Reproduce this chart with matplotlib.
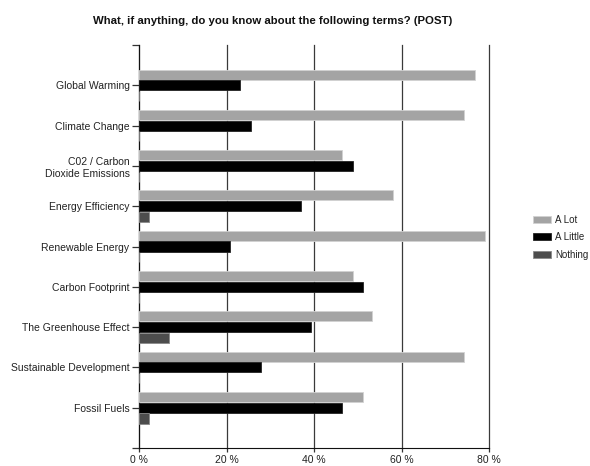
import matplotlib
matplotlib.use("Agg")
import matplotlib.pyplot as plt
import numpy as np

plt.rcParams['font.family'] = ['Liberation Sans', 'DejaVu Sans']

categories = [
    "Global Warming",
    "Climate Change",
    "C02 / Carbon\nDioxide Emissions",
    "Energy Efficiency",
    "Renewable Energy",
    "Carbon Footprint",
    "The Greenhouse Effect",
    "Sustainable Development",
    "Fossil Fuels",
]
a_lot = [76.7, 74.3, 46.3, 58.1, 79.0, 48.8, 53.3, 74.3, 51.1]
a_little = [23.1, 25.5, 48.8, 37.0, 20.8, 51.1, 39.3, 27.8, 46.3]
nothing = [0, 0, 0, 2.2, 0, 0, 6.9, 0, 2.2]
series_names = ["A Lot", "A Little", "Nothing"]
x_ticks = [0, 20, 40, 60, 80]
x_tick_labels = ["0 %", "20 %", "40 %", "60 %", "80 %"]

fig = plt.figure(figsize=(5.90, 4.66), dpi=100)
ax = fig.add_axes([0.2361, 0.0386, 0.5932, 0.8648])

y = np.arange(len(categories))
step = 0.267
h = 0.25
colors = ["#a4a4a4", "#000000", "#4d4d4d"]
edges = ["#d2d2d2", "#222222", "#8a8a8a"]
for k, (vals, name) in enumerate(zip([a_lot, a_little, nothing], series_names)):
    ax.barh(y + (k - 1) * step, vals, height=h, color=colors[k],
            edgecolor=edges[k], linewidth=0.6, label=name, zorder=3)

ax.set_xlim(0, 80)
ax.set_ylim(9, -1)
ax.set_yticks(y)
ax.set_yticklabels(categories, fontsize=7.5, color="#222222")
ax.set_yticks([-1, 9], minor=True)
ax.set_xticks(x_ticks)
ax.set_xticklabels(x_tick_labels, fontsize=7.5, color="#222222")

ax.grid(axis="x", color="#3a3a3a", linewidth=0.9, zorder=0)
ax.set_axisbelow(True)
for gl in ax.get_xgridlines():
    gl.set_clip_on(False)
for s in ["top", "right"]:
    ax.spines[s].set_visible(False)
ax.spines["left"].set_color("#111111")
ax.spines["bottom"].set_color("#111111")
ax.tick_params(axis="y", which="both", length=5, width=0.9, color="#333333", pad=2)
ax.tick_params(axis="x", length=3, width=0.9, color="#333333", pad=2)

fig.text(0.158, 0.955, "What, if anything, do you know about the following terms? (POST)",
         fontsize=8.2, fontweight="bold", ha="left", va="center", color="#111111")

leg = ax.legend(loc="center left", bbox_to_anchor=(1.113, 0.523), frameon=False,
                fontsize=7, handlelength=1.86, handleheight=0.72, handletextpad=0.45,
                labelspacing=0.75, borderaxespad=0)
for t in leg.get_texts():
    t.set_color("#222222")

fig.savefig("out.png", dpi=100, facecolor="white")
